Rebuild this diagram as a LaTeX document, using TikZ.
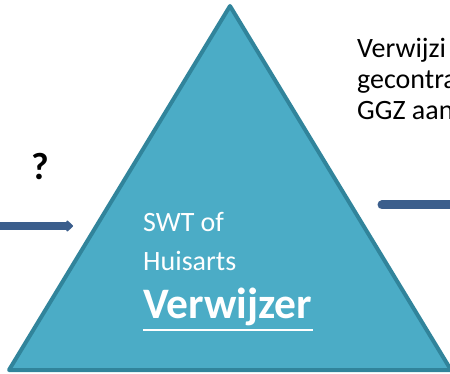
\documentclass[tikz,border=0pt]{standalone}
\usepackage{fontspec}
\setmainfont{Carlito}
\usetikzlibrary{arrows.meta,positioning}
\definecolor{tri fill}{HTML}{4BACC6}
\definecolor{tri line}{HTML}{31849B}
\definecolor{arrow blue}{HTML}{3B5E8C}
\tikzset{apex/.style={tri line,fill=tri fill,line width=4pt,line join=round},
         body text/.style={inner sep=0pt,anchor=base west,font=\fontsize{28}{31}\selectfont},
         white text/.style={body text,text=white},
         role text/.style={white text,font=\fontsize{43.5}{46}\selectfont\bfseries},
         flow/.style={arrow blue,line width=8pt},
}

\begin{document}
\begin{tikzpicture}[x=1pt,y=-1pt]
\useasboundingbox (0,0) rectangle (450,374);
\clip (0,0) rectangle (450,374);
% the triangle
\coordinate (top) at (230,6);
\coordinate (left) at (9,370);
\coordinate (right) at (451,370);
\draw[apex] (top) -- (left) -- (right) -- cycle;
% texts
\node[inner sep=0pt,anchor=base,font=\fontsize{38}{40}\selectfont\bfseries] (q) at (40,180) {?};
\node[white text] (swt) at (143,232) {SWT of};
\node[white text] (ha) at (143,271) {Huisarts};
\node[role text] (vw) at (143,318) {Verwijzer};
\draw[white,line width=2.5pt] ([yshift=-12pt]vw.base west) -- ([yshift=-12pt]vw.base east);
\node[body text] (r1) at (357,58) {Verwijzi};
\node[body text] (r2) at (357,89) {gecontra};
\node[body text] (r3) at (357,120) {GGZ aan};
% connectors
\coordinate (in) at (-4,226);
\coordinate (intip) at (73,226);
\draw[flow,-{Triangle[length=7pt,width=13pt,round]}] (in) -- (intip);
\coordinate (out) at (382,205);
\coordinate (outend) at (460,205);
\draw[flow,line width=9pt,line cap=round] (out) -- (outend);
\end{tikzpicture}
\end{document}
